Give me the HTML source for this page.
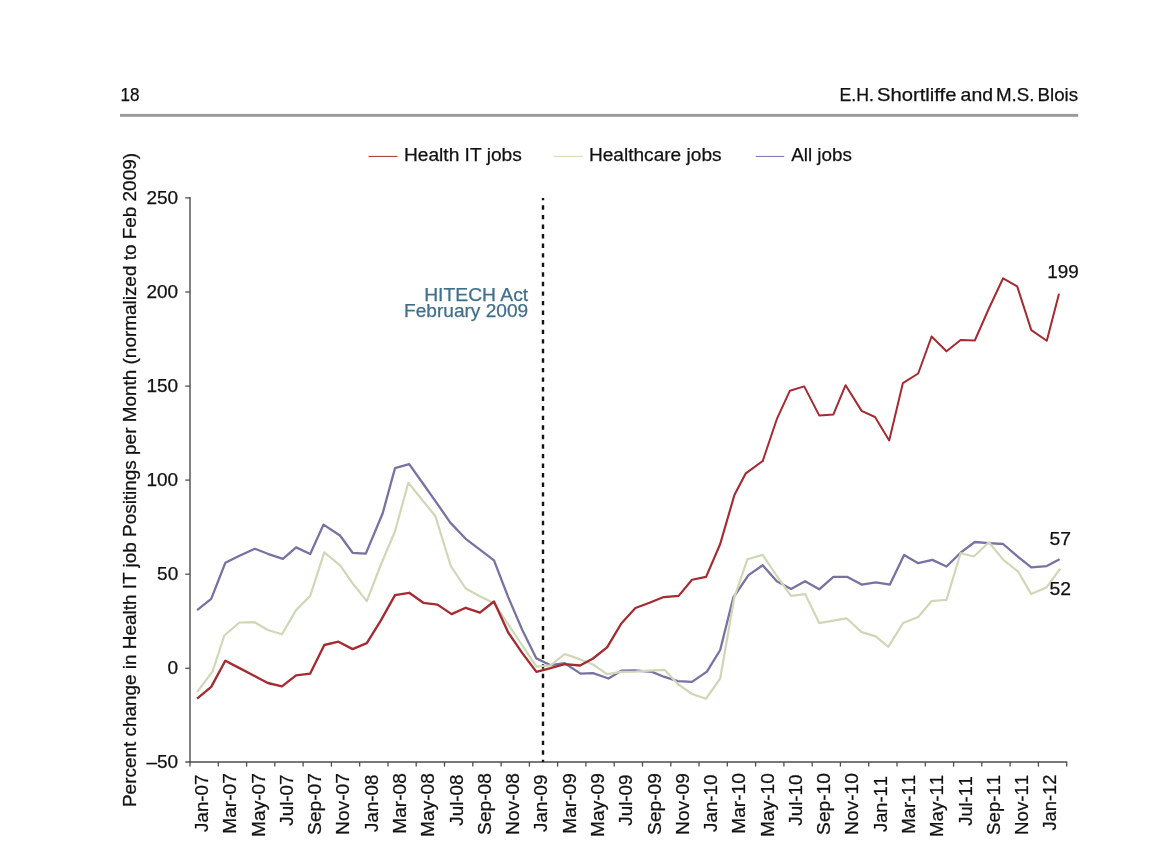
<!DOCTYPE html>
<html lang="en"><head><meta charset="utf-8"><title>Figure</title>
<style>
html,body{margin:0;padding:0;background:#fff;}
body{width:1158px;height:858px;overflow:hidden;font-family:"Liberation Sans",sans-serif;}
svg{display:block;}
text{font-family:"Liberation Sans",sans-serif;fill:#111;stroke:#111;stroke-width:0.25px;}
</style></head><body>
<svg width="1158" height="858" viewBox="0 0 1158 858">
<rect width="1158" height="858" fill="#fff"/>

<text x="120.6" y="100.5" font-size="18.2" textLength="19" lengthAdjust="spacingAndGlyphs">18</text>
<text x="839.5" y="100.5" font-size="18.4" textLength="34.5" lengthAdjust="spacingAndGlyphs">E.H.</text>
<text x="877.0" y="100.5" font-size="18.4" textLength="79.5" lengthAdjust="spacingAndGlyphs">Shortliffe</text>
<text x="960.6" y="100.5" font-size="18.4" textLength="32.4" lengthAdjust="spacingAndGlyphs">and</text>
<text x="996.0" y="100.5" font-size="18.4" textLength="38.5" lengthAdjust="spacingAndGlyphs">M.S.</text>
<text x="1037.5" y="100.5" font-size="18.4" textLength="40.6" lengthAdjust="spacingAndGlyphs">Blois</text>
<rect x="120" y="113.9" width="958.2" height="2.9" fill="#9a9a9a"/>
<line x1="368.5" y1="156.4" x2="397.5" y2="156.4" stroke="#a52a31" stroke-width="1.0"/>
<text x="403.9" y="161" font-size="18.9" textLength="117.9" lengthAdjust="spacingAndGlyphs">Health IT jobs</text>
<line x1="553.7" y1="156.4" x2="582.7" y2="156.4" stroke="#cfd8b6" stroke-width="1.0"/>
<text x="588.9" y="161" font-size="18.9" textLength="132.7" lengthAdjust="spacingAndGlyphs">Healthcare jobs</text>
<line x1="755.7" y1="156.4" x2="784.2" y2="156.4" stroke="#7872a3" stroke-width="1.0"/>
<text x="791.2" y="161" font-size="18.9" textLength="60.7" lengthAdjust="spacingAndGlyphs">All jobs</text>
<text transform="translate(135.8,807) rotate(-90)" font-size="18.9" textLength="654" lengthAdjust="spacingAndGlyphs">Percent change in Health IT job Positings per Month (normalized to Feb 2009)</text>
<line x1="190" y1="197" x2="190" y2="762.6" stroke="#4d4d4d" stroke-width="1.4"/>
<line x1="185.3" y1="762" x2="1067.2" y2="762" stroke="#4d4d4d" stroke-width="1.4"/>
<line x1="185.3" y1="197.9" x2="190" y2="197.9" stroke="#4d4d4d" stroke-width="1.3"/>
<text x="178.2" y="203.7" font-size="18.3" text-anchor="end" textLength="31.7" lengthAdjust="spacingAndGlyphs">250</text>
<line x1="185.3" y1="292.0" x2="190" y2="292.0" stroke="#4d4d4d" stroke-width="1.3"/>
<text x="178.2" y="297.8" font-size="18.3" text-anchor="end" textLength="31.7" lengthAdjust="spacingAndGlyphs">200</text>
<line x1="185.3" y1="386.1" x2="190" y2="386.1" stroke="#4d4d4d" stroke-width="1.3"/>
<text x="178.2" y="391.9" font-size="18.3" text-anchor="end" textLength="31.7" lengthAdjust="spacingAndGlyphs">150</text>
<line x1="185.3" y1="480.1" x2="190" y2="480.1" stroke="#4d4d4d" stroke-width="1.3"/>
<text x="178.2" y="485.9" font-size="18.3" text-anchor="end" textLength="31.7" lengthAdjust="spacingAndGlyphs">100</text>
<line x1="185.3" y1="574.2" x2="190" y2="574.2" stroke="#4d4d4d" stroke-width="1.3"/>
<text x="178.2" y="580.0" font-size="18.3" text-anchor="end" textLength="21.1" lengthAdjust="spacingAndGlyphs">50</text>
<line x1="185.3" y1="668.3" x2="190" y2="668.3" stroke="#4d4d4d" stroke-width="1.3"/>
<text x="178.2" y="674.1" font-size="18.3" text-anchor="end" textLength="10.6" lengthAdjust="spacingAndGlyphs">0</text>
<text x="178.2" y="768.2" font-size="18.3" text-anchor="end" textLength="31.7" lengthAdjust="spacingAndGlyphs">–50</text>
<line x1="190.0" y1="762" x2="190.0" y2="766.6" stroke="#4d4d4d" stroke-width="1.3"/>
<line x1="218.3" y1="762" x2="218.3" y2="766.6" stroke="#4d4d4d" stroke-width="1.3"/>
<line x1="246.6" y1="762" x2="246.6" y2="766.6" stroke="#4d4d4d" stroke-width="1.3"/>
<line x1="274.8" y1="762" x2="274.8" y2="766.6" stroke="#4d4d4d" stroke-width="1.3"/>
<line x1="303.1" y1="762" x2="303.1" y2="766.6" stroke="#4d4d4d" stroke-width="1.3"/>
<line x1="331.4" y1="762" x2="331.4" y2="766.6" stroke="#4d4d4d" stroke-width="1.3"/>
<line x1="359.7" y1="762" x2="359.7" y2="766.6" stroke="#4d4d4d" stroke-width="1.3"/>
<line x1="388.0" y1="762" x2="388.0" y2="766.6" stroke="#4d4d4d" stroke-width="1.3"/>
<line x1="416.2" y1="762" x2="416.2" y2="766.6" stroke="#4d4d4d" stroke-width="1.3"/>
<line x1="444.5" y1="762" x2="444.5" y2="766.6" stroke="#4d4d4d" stroke-width="1.3"/>
<line x1="472.8" y1="762" x2="472.8" y2="766.6" stroke="#4d4d4d" stroke-width="1.3"/>
<line x1="501.1" y1="762" x2="501.1" y2="766.6" stroke="#4d4d4d" stroke-width="1.3"/>
<line x1="529.4" y1="762" x2="529.4" y2="766.6" stroke="#4d4d4d" stroke-width="1.3"/>
<line x1="557.6" y1="762" x2="557.6" y2="766.6" stroke="#4d4d4d" stroke-width="1.3"/>
<line x1="585.9" y1="762" x2="585.9" y2="766.6" stroke="#4d4d4d" stroke-width="1.3"/>
<line x1="614.2" y1="762" x2="614.2" y2="766.6" stroke="#4d4d4d" stroke-width="1.3"/>
<line x1="642.5" y1="762" x2="642.5" y2="766.6" stroke="#4d4d4d" stroke-width="1.3"/>
<line x1="670.8" y1="762" x2="670.8" y2="766.6" stroke="#4d4d4d" stroke-width="1.3"/>
<line x1="699.0" y1="762" x2="699.0" y2="766.6" stroke="#4d4d4d" stroke-width="1.3"/>
<line x1="727.3" y1="762" x2="727.3" y2="766.6" stroke="#4d4d4d" stroke-width="1.3"/>
<line x1="755.6" y1="762" x2="755.6" y2="766.6" stroke="#4d4d4d" stroke-width="1.3"/>
<line x1="783.9" y1="762" x2="783.9" y2="766.6" stroke="#4d4d4d" stroke-width="1.3"/>
<line x1="812.2" y1="762" x2="812.2" y2="766.6" stroke="#4d4d4d" stroke-width="1.3"/>
<line x1="840.4" y1="762" x2="840.4" y2="766.6" stroke="#4d4d4d" stroke-width="1.3"/>
<line x1="868.7" y1="762" x2="868.7" y2="766.6" stroke="#4d4d4d" stroke-width="1.3"/>
<line x1="897.0" y1="762" x2="897.0" y2="766.6" stroke="#4d4d4d" stroke-width="1.3"/>
<line x1="925.3" y1="762" x2="925.3" y2="766.6" stroke="#4d4d4d" stroke-width="1.3"/>
<line x1="953.6" y1="762" x2="953.6" y2="766.6" stroke="#4d4d4d" stroke-width="1.3"/>
<line x1="981.8" y1="762" x2="981.8" y2="766.6" stroke="#4d4d4d" stroke-width="1.3"/>
<line x1="1010.1" y1="762" x2="1010.1" y2="766.6" stroke="#4d4d4d" stroke-width="1.3"/>
<line x1="1038.4" y1="762" x2="1038.4" y2="766.6" stroke="#4d4d4d" stroke-width="1.3"/>
<line x1="1066.7" y1="762" x2="1066.7" y2="766.6" stroke="#4d4d4d" stroke-width="1.3"/>
<text transform="translate(208.0,774.5) rotate(-90)" font-size="18.5" text-anchor="end" textLength="57.4" lengthAdjust="spacingAndGlyphs" style="font-kerning:none">Jan-07</text>
<text transform="translate(236.3,773.2) rotate(-90)" font-size="18.5" text-anchor="end" textLength="60.6" lengthAdjust="spacingAndGlyphs" style="font-kerning:none">Mar-07</text>
<text transform="translate(264.6,773.2) rotate(-90)" font-size="18.5" text-anchor="end" textLength="63.7" lengthAdjust="spacingAndGlyphs" style="font-kerning:none">May-07</text>
<text transform="translate(292.8,774.5) rotate(-90)" font-size="18.5" text-anchor="end" textLength="51.2" lengthAdjust="spacingAndGlyphs" style="font-kerning:none">Jul-07</text>
<text transform="translate(321.1,773.2) rotate(-90)" font-size="18.5" text-anchor="end" textLength="61.7" lengthAdjust="spacingAndGlyphs" style="font-kerning:none">Sep-07</text>
<text transform="translate(349.4,773.2) rotate(-90)" font-size="18.5" text-anchor="end" textLength="61.7" lengthAdjust="spacingAndGlyphs" style="font-kerning:none">Nov-07</text>
<text transform="translate(377.7,774.5) rotate(-90)" font-size="18.5" text-anchor="end" textLength="57.4" lengthAdjust="spacingAndGlyphs" style="font-kerning:none">Jan-08</text>
<text transform="translate(406.0,773.2) rotate(-90)" font-size="18.5" text-anchor="end" textLength="60.6" lengthAdjust="spacingAndGlyphs" style="font-kerning:none">Mar-08</text>
<text transform="translate(434.2,773.2) rotate(-90)" font-size="18.5" text-anchor="end" textLength="63.7" lengthAdjust="spacingAndGlyphs" style="font-kerning:none">May-08</text>
<text transform="translate(462.5,774.5) rotate(-90)" font-size="18.5" text-anchor="end" textLength="51.2" lengthAdjust="spacingAndGlyphs" style="font-kerning:none">Jul-08</text>
<text transform="translate(490.8,773.2) rotate(-90)" font-size="18.5" text-anchor="end" textLength="61.7" lengthAdjust="spacingAndGlyphs" style="font-kerning:none">Sep-08</text>
<text transform="translate(519.1,773.2) rotate(-90)" font-size="18.5" text-anchor="end" textLength="61.7" lengthAdjust="spacingAndGlyphs" style="font-kerning:none">Nov-08</text>
<text transform="translate(547.4,774.5) rotate(-90)" font-size="18.5" text-anchor="end" textLength="57.4" lengthAdjust="spacingAndGlyphs" style="font-kerning:none">Jan-09</text>
<text transform="translate(575.6,773.2) rotate(-90)" font-size="18.5" text-anchor="end" textLength="60.6" lengthAdjust="spacingAndGlyphs" style="font-kerning:none">Mar-09</text>
<text transform="translate(603.9,773.2) rotate(-90)" font-size="18.5" text-anchor="end" textLength="63.7" lengthAdjust="spacingAndGlyphs" style="font-kerning:none">May-09</text>
<text transform="translate(632.2,774.5) rotate(-90)" font-size="18.5" text-anchor="end" textLength="51.2" lengthAdjust="spacingAndGlyphs" style="font-kerning:none">Jul-09</text>
<text transform="translate(660.5,773.2) rotate(-90)" font-size="18.5" text-anchor="end" textLength="61.7" lengthAdjust="spacingAndGlyphs" style="font-kerning:none">Sep-09</text>
<text transform="translate(688.8,773.2) rotate(-90)" font-size="18.5" text-anchor="end" textLength="61.7" lengthAdjust="spacingAndGlyphs" style="font-kerning:none">Nov-09</text>
<text transform="translate(717.0,774.5) rotate(-90)" font-size="18.5" text-anchor="end" textLength="57.4" lengthAdjust="spacingAndGlyphs" style="font-kerning:none">Jan-10</text>
<text transform="translate(745.3,773.2) rotate(-90)" font-size="18.5" text-anchor="end" textLength="60.6" lengthAdjust="spacingAndGlyphs" style="font-kerning:none">Mar-10</text>
<text transform="translate(773.6,773.2) rotate(-90)" font-size="18.5" text-anchor="end" textLength="63.7" lengthAdjust="spacingAndGlyphs" style="font-kerning:none">May-10</text>
<text transform="translate(801.9,774.5) rotate(-90)" font-size="18.5" text-anchor="end" textLength="51.2" lengthAdjust="spacingAndGlyphs" style="font-kerning:none">Jul-10</text>
<text transform="translate(830.2,773.2) rotate(-90)" font-size="18.5" text-anchor="end" textLength="61.7" lengthAdjust="spacingAndGlyphs" style="font-kerning:none">Sep-10</text>
<text transform="translate(858.4,773.2) rotate(-90)" font-size="18.5" text-anchor="end" textLength="61.7" lengthAdjust="spacingAndGlyphs" style="font-kerning:none">Nov-10</text>
<text transform="translate(886.7,776.1) rotate(-90)" font-size="18.5" text-anchor="end" textLength="55.8" lengthAdjust="spacingAndGlyphs" style="font-kerning:none">Jan-11</text>
<text transform="translate(915.0,774.8) rotate(-90)" font-size="18.5" text-anchor="end" textLength="59.0" lengthAdjust="spacingAndGlyphs" style="font-kerning:none">Mar-11</text>
<text transform="translate(943.3,774.8) rotate(-90)" font-size="18.5" text-anchor="end" textLength="62.1" lengthAdjust="spacingAndGlyphs" style="font-kerning:none">May-11</text>
<text transform="translate(971.6,776.1) rotate(-90)" font-size="18.5" text-anchor="end" textLength="49.6" lengthAdjust="spacingAndGlyphs" style="font-kerning:none">Jul-11</text>
<text transform="translate(999.8,774.8) rotate(-90)" font-size="18.5" text-anchor="end" textLength="60.1" lengthAdjust="spacingAndGlyphs" style="font-kerning:none">Sep-11</text>
<text transform="translate(1028.1,774.8) rotate(-90)" font-size="18.5" text-anchor="end" textLength="60.1" lengthAdjust="spacingAndGlyphs" style="font-kerning:none">Nov-11</text>
<text transform="translate(1056.4,774.5) rotate(-90)" font-size="18.5" text-anchor="end" textLength="56.1" lengthAdjust="spacingAndGlyphs" style="font-kerning:none">Jan-12</text>
<line x1="543" y1="198" x2="543" y2="762" stroke="#111" stroke-width="2.4" stroke-dasharray="4.4 5.16" stroke-dashoffset="2.2"/>
<text x="528.2" y="300.5" font-size="18.6" text-anchor="end" textLength="104.0" lengthAdjust="spacingAndGlyphs" style="fill:#3f6f8c;stroke:#3f6f8c">HITECH Act</text>
<text x="528.2" y="317.4" font-size="18.6" text-anchor="end" textLength="124.2" lengthAdjust="spacingAndGlyphs" style="fill:#3f6f8c;stroke:#3f6f8c">February 2009</text>
<polyline fill="none" stroke="#7872a3" stroke-width="2.3" stroke-linejoin="round" stroke-linecap="butt" points="197.1,610.1 211.2,598.9 225.3,562.8 239.5,555.8 254.9,548.8 267.8,553.8 282.9,558.8 296.1,547.4 310.2,554.0 323.5,524.6 340.0,535.5 352.6,552.8 365.8,553.6 382.6,513.5 395.0,468.2 409.2,464.2 423.3,484.0 437.5,504.1 450.3,522.6 465.7,538.8 479.9,549.7 494.0,560.4 508.2,597.1 522.3,630.0 536.4,658.4 550.6,665.2 564.7,663.2 580.6,673.6 593.0,673.1 608.5,678.5 621.3,670.7 635.4,670.5 652.2,671.9 663.7,676.7 677.8,681.1 692.0,681.9 706.9,671.6 720.2,650.0 733.3,597.5 748.5,575.1 762.7,565.3 776.8,581.2 791.0,588.9 805.1,581.2 819.2,589.3 833.4,576.9 847.5,576.9 861.6,584.6 875.8,582.4 889.9,584.6 904.1,554.9 918.2,563.2 932.4,559.9 946.5,566.5 960.6,552.7 974.8,542.0 988.9,543.2 1003.1,544.0 1017.2,556.1 1031.3,567.4 1046.8,566.1 1059.6,559.2"/>
<polyline fill="none" stroke="#cfd8b6" stroke-width="2.2" stroke-linejoin="round" stroke-linecap="butt" points="197.1,692.1 212.6,671.4 224.3,635.5 239.5,622.5 254.6,622.2 267.8,630.0 281.9,634.3 296.1,610.1 310.2,595.9 324.3,552.3 340.4,565.6 352.6,583.3 366.8,601.1 380.9,564.5 395.0,531.2 408.3,482.8 423.3,501.3 435.3,516.0 450.8,566.0 465.7,588.5 479.9,596.3 494.0,603.2 508.2,624.4 522.3,645.5 536.4,666.7 550.6,665.4 564.7,654.0 578.9,658.9 593.0,664.5 607.1,674.1 621.3,671.9 635.4,671.6 649.5,670.7 664.6,669.8 677.8,684.0 692.0,694.0 706.1,698.7 720.2,678.5 734.4,597.0 747.5,559.2 762.7,554.9 776.8,576.0 791.0,595.9 805.1,594.1 819.2,623.1 833.4,620.6 846.5,618.3 861.6,632.1 875.8,636.4 888.3,646.8 903.1,623.0 918.2,617.0 931.6,601.0 946.5,599.8 960.6,553.2 973.9,556.5 988.9,542.3 1003.1,559.6 1018.2,571.7 1031.3,594.1 1046.8,587.2 1060.2,568.6"/>
<polyline fill="none" stroke="#a52a31" stroke-width="2.35" stroke-linejoin="round" stroke-linecap="butt" points="197.1,698.7 211.2,686.9 225.3,660.7 239.5,668.1 253.6,675.5 267.8,683.0 281.9,686.4 296.1,675.4 310.2,673.6 324.3,645.0 338.5,641.7 352.6,649.1 366.8,643.2 380.9,620.4 395.0,595.1 409.2,592.8 423.3,602.8 437.5,604.6 451.6,614.1 465.7,607.8 479.9,612.7 494.0,601.5 508.2,632.5 522.3,653.1 536.4,671.9 550.6,668.2 564.7,664.1 580.1,665.5 593.0,658.5 607.1,647.4 621.3,623.5"/>
<polyline fill="none" stroke="#a52a31" stroke-width="2.15" stroke-linejoin="round" stroke-linecap="round" points="621.3,623.5 635.4,608.0 649.5,602.8 663.7,597.1 678.6,595.9 692.0,579.8 706.1,576.9 720.2,544.0 734.4,495.0 745.8,473.3 762.7,461.0"/>
<polyline fill="none" stroke="#a52a31" stroke-width="2.0" stroke-linejoin="round" stroke-linecap="round" points="762.7,461.0 776.8,419.2 789.9,390.7 804.2,386.4 819.2,415.4 833.4,414.4 845.6,385.2 861.6,410.9 875.0,417.0 889.2,440.5 902.9,383.1 918.2,373.5 931.6,336.5 946.5,351.2 960.6,340.0 974.8,340.5 988.9,308.5 1003.1,278.3 1017.2,286.4 1031.3,330.1 1046.8,340.8 1058.8,294.4"/>
<text x="1047.2" y="277.8" font-size="18" textLength="31.5" lengthAdjust="spacingAndGlyphs">199</text>
<text x="1049.6" y="545" font-size="17.6" textLength="21.5" lengthAdjust="spacingAndGlyphs">57</text>
<text x="1049.4" y="595" font-size="17.6" textLength="21.5" lengthAdjust="spacingAndGlyphs">52</text>
</svg>
</body></html>
